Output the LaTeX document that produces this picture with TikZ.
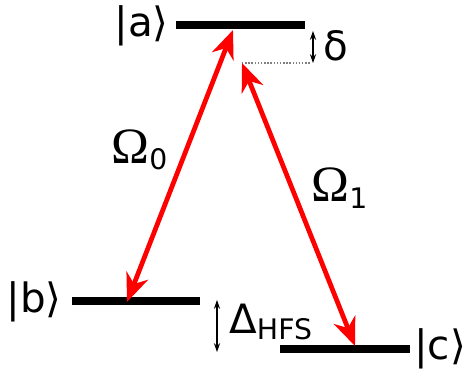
\documentclass[tikz,border=0pt]{standalone}
\usepackage{fontspec}
\setmainfont{DejaVu Sans}
\newfontfamily\omfont{Liberation Serif}
\usetikzlibrary{arrows.meta}

\begin{document}
\begin{tikzpicture}[x=0.02cm,y=-0.02cm,>=Stealth,
  level/.style={line width=4.5pt},
  ray/.style={red,line width=2.7pt,
    {Stealth[length=16pt,width=13pt,inset=5pt]}-{Stealth[length=16pt,width=13pt,inset=5pt]}},
  gap/.style={line width=0.7pt,{Stealth[length=5pt,width=3.5pt]}-{Stealth[length=5pt,width=3.5pt]}},
  lbl/.style={font=\fontsize{23}{26}\selectfont,inner sep=0pt}]
\useasboundingbox (0,0) rectangle (466,379);
% 三个能级
\coordinate (a0) at (176,25); \coordinate (a1) at (305,25);
\coordinate (b0) at (72,301);  \coordinate (b1) at (200,301);
\coordinate (c0) at (280,349); \coordinate (c1) at (410,349);
\draw[level] (a0) -- (a1);
\draw[level] (b0) -- (b1);
\draw[level] (c0) -- (c1);
\node[lbl,anchor=east] (ka) at (169,26) {|a⟩};
\node[lbl,anchor=east] (kb) at (62,302) {|b⟩};
\node[lbl,anchor=west] (kc) at (414,349) {|c⟩};
% 失谐 delta
\coordinate (va) at (233,30);
\coordinate (vd) at (242,63);
\coordinate (d1) at (310,63);
\coordinate (g0) at (313,31); \coordinate (g1) at (313,63);
\draw[gray,densely dotted,line width=0.8pt] (vd) -- (d1);
\draw[gap] (g0) -- (g1);
\node[lbl,anchor=west] (dl) at (323,46) {δ};
% 超精细分裂
\coordinate (h0) at (217,300); \coordinate (h1) at (217,352);
\draw[gap] (h0) -- (h1);
\node[lbl,anchor=west] (hl) at (229,322) {Δ\textsubscript{HFS}};
% 两束激光
\coordinate (vb) at (127,302);
\coordinate (vc) at (355,346);
\draw[ray] (vb) -- (va);
\draw[ray] (vd) -- (vc);
\node[lbl] (o0) at (140,150) {{\omfont\fontsize{29}{30}\selectfont Ω}\textsubscript{0}};
\node[lbl] (o1) at (340,188) {{\omfont\fontsize{29}{30}\selectfont Ω}\textsubscript{1}};
\end{tikzpicture}
\end{document}
